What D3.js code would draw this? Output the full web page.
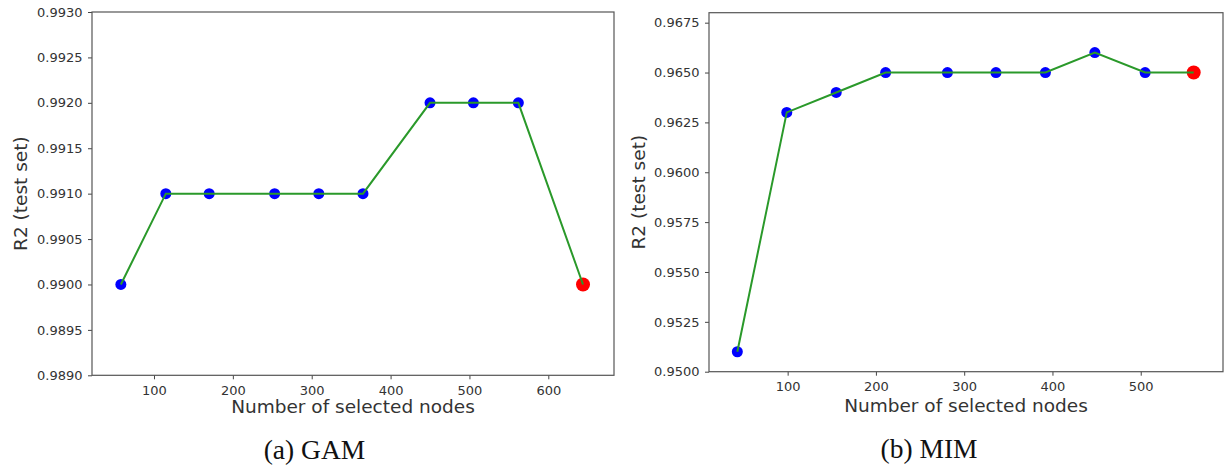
<!DOCTYPE html>
<html>
<head>
<meta charset="utf-8">
<script src="https://cdn.jsdelivr.net/npm/d3@7"></script>
<style>
  body { margin: 0; background: #fff; }
  svg { display: block; }
  .tick text { font-family: "DejaVu Sans", sans-serif; font-size: 13px; fill: #333; }
  .tick line { stroke: #444; stroke-width: 1; }
  .domain { display: none; }
</style>
</head>
<body>
<svg id="chart" width="1224" height="467"></svg>
<script>
// Panel (a) GAM
const gamNodes = [58, 115, 170, 253, 309, 365, 450, 505, 562, 644];
const gamR2    = [0.9900, 0.9910, 0.9910, 0.9910, 0.9910, 0.9910, 0.9920, 0.9920, 0.9920, 0.9900];
const gamXTicks = [100, 200, 300, 400, 500, 600];
const gamYTicks = [0.9890, 0.9895, 0.9900, 0.9905, 0.9910, 0.9915, 0.9920, 0.9925, 0.9930];

// Panel (b) MIM
const mimNodes = [43, 99, 155, 211, 281, 336, 392, 448, 505, 560];
const mimR2    = [0.9510, 0.9630, 0.9640, 0.9650, 0.9650, 0.9650, 0.9650, 0.9660, 0.9650, 0.9650];
const mimXTicks = [100, 200, 300, 400, 500];
const mimYTicks = [0.9500, 0.9525, 0.9550, 0.9575, 0.9600, 0.9625, 0.9650, 0.9675];

const xLabel = "Number of selected nodes";
const yLabel = "R2 (test set)";

const svg = d3.select("#chart");
svg.append("rect").attr("width", 1224).attr("height", 467).attr("fill", "#fff");

function panel(cfg) {
  const g = svg.append("g");
  const x = d3.scaleLinear().domain(cfg.xDomain).range([cfg.left, cfg.right]);
  const y = d3.scaleLinear().domain(cfg.yDomain).range([cfg.bottom, cfg.top]);

  g.append("g").attr("transform", `translate(0,${cfg.bottom})`)
    .call(d3.axisBottom(x).tickValues(cfg.xTicks).tickSize(4).tickPadding(6).tickFormat(d3.format("d")));
  g.append("g").attr("transform", `translate(${cfg.left},0)`)
    .call(d3.axisLeft(y).tickValues(cfg.yTicks).tickSize(4).tickPadding(5.5).tickFormat(d3.format(".4f")));

  g.append("rect")
    .attr("x", cfg.left).attr("y", cfg.top)
    .attr("width", cfg.right - cfg.left).attr("height", cfg.bottom - cfg.top)
    .attr("fill", "none").attr("stroke", "#555").attr("stroke-width", 1.2);

  const pts = cfg.xs.map((v, i) => ({x: v, y: cfg.ys[i], last: i === cfg.xs.length - 1}));

  g.selectAll("circle.pt").data(pts).enter().append("circle")
    .attr("cx", d => x(d.x)).attr("cy", d => y(d.y))
    .attr("r", d => d.last ? 7 : 5.5)
    .attr("fill", d => d.last ? "#ff0000" : "#0000ff");

  g.append("path").datum(pts)
    .attr("d", d3.line().x(d => x(d.x)).y(d => y(d.y)))
    .attr("fill", "none").attr("stroke", "#2a992a").attr("stroke-width", 2);

  g.append("text")
    .attr("x", (cfg.left + cfg.right) / 2).attr("y", cfg.xLabelY)
    .attr("text-anchor", "middle")
    .attr("font-family", "DejaVu Sans, sans-serif").attr("font-size", 18.5).attr("fill", "#333")
    .text(xLabel);

  g.append("text")
    .attr("transform", `translate(${cfg.yLabelX},${(cfg.top + cfg.bottom) / 2}) rotate(-90)`)
    .attr("text-anchor", "middle")
    .attr("font-family", "DejaVu Sans, sans-serif").attr("font-size", 18.5).attr("fill", "#333")
    .text(yLabel);

  g.append("text")
    .attr("x", cfg.captionX).attr("y", cfg.captionY)
    .attr("text-anchor", "middle")
    .attr("font-family", "Liberation Serif, serif").attr("font-size", 27.5).attr("fill", "#111")
    .text(cfg.caption);
}

panel({
  xs: gamNodes, ys: gamR2, xTicks: gamXTicks, yTicks: gamYTicks,
  xDomain: [21.4, 683.3], yDomain: [0.9890, 0.9930],
  left: 92, right: 614, top: 12, bottom: 375.3,
  xLabelY: 413, yLabelX: 27, caption: "(a) GAM", captionX: 314.5, captionY: 459
});

panel({
  xs: mimNodes, ys: mimR2, xTicks: mimXTicks, yTicks: mimYTicks,
  xDomain: [10.9, 593.2], yDomain: [0.9500, 0.9680],
  left: 709, right: 1223, top: 12.7, bottom: 371.7,
  xLabelY: 412, yLabelX: 645, caption: "(b) MIM", captionX: 929, captionY: 458
});
</script>
</body>
</html>
